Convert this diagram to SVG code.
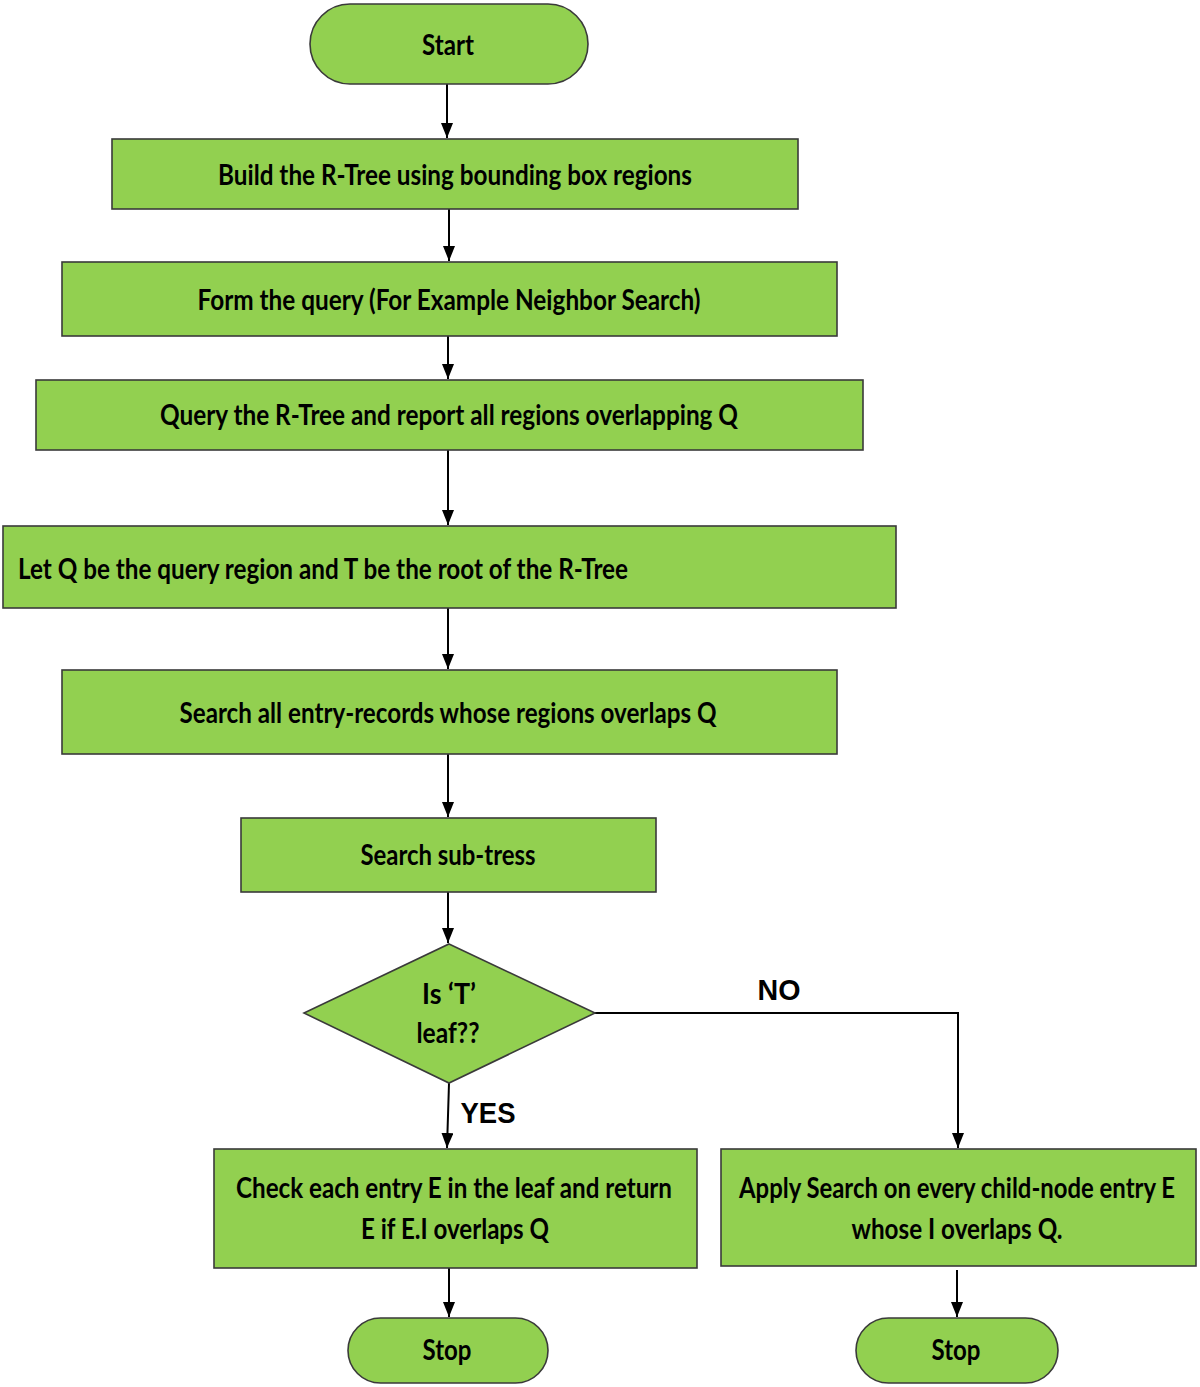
<svg xmlns="http://www.w3.org/2000/svg" width="1200" height="1387" viewBox="0 0 1200 1387">
<defs>
<style>
.n{fill:#92D050;stroke:#3a3a3a;stroke-width:1.6}
.t{font-family:Lato,"Open Sans","Liberation Sans",sans-serif;font-weight:bold;font-size:29px;fill:#000;text-anchor:middle;dominant-baseline:central}
.tl{text-anchor:start}
.c{fill:none;stroke:#000;stroke-width:2}
.lab{font-family:"Liberation Sans",Arial,sans-serif;font-weight:bold;font-size:30px;fill:#000;text-anchor:middle;dominant-baseline:central}
</style>
<marker id="ah" viewBox="0 0 10 10" refX="10" refY="5" markerWidth="15" markerHeight="12" markerUnits="userSpaceOnUse" orient="auto-start-reverse" preserveAspectRatio="none">
<path d="M0,0 L10,5 L0,10 Z" fill="#000"/>
</marker>
</defs>
<rect width="1200" height="1387" fill="#fff"/>
<g id="connectors">
<line class="c" x1="447" y1="84" x2="447" y2="138" marker-end="url(#ah)"/>
<line class="c" x1="449" y1="209" x2="449" y2="261" marker-end="url(#ah)"/>
<line class="c" x1="448" y1="336" x2="448" y2="379" marker-end="url(#ah)"/>
<line class="c" x1="448" y1="450" x2="448" y2="525" marker-end="url(#ah)"/>
<line class="c" x1="448" y1="608" x2="448" y2="669" marker-end="url(#ah)"/>
<line class="c" x1="448" y1="754" x2="448" y2="817" marker-end="url(#ah)"/>
<line class="c" x1="448" y1="892" x2="448" y2="943" marker-end="url(#ah)"/>
<line class="c" x1="449" y1="1083" x2="447" y2="1148" marker-end="url(#ah)"/>
<polyline class="c" points="595,1013 958,1013 958,1148" marker-end="url(#ah)"/>
<line class="c" x1="449" y1="1262" x2="449" y2="1317" marker-end="url(#ah)"/>
<line class="c" x1="957" y1="1270" x2="957" y2="1317" marker-end="url(#ah)"/>
<text class="lab" x="779" y="989" textLength="43" lengthAdjust="spacingAndGlyphs">NO</text>
<text class="lab" x="488" y="1112" textLength="55" lengthAdjust="spacingAndGlyphs">YES</text>
</g>
<g id="start">
<rect class="n" x="310" y="4" width="278" height="80" rx="40" ry="40"/>
<text class="t" x="448" y="43" textLength="52" lengthAdjust="spacingAndGlyphs">Start</text>
</g>
<g id="build">
<rect class="n" x="112" y="139" width="686" height="70"/>
<text class="t" x="455" y="173" textLength="474" lengthAdjust="spacingAndGlyphs">Build the R-Tree using bounding box regions</text>
</g>
<g id="form">
<rect class="n" x="62" y="262" width="775" height="74"/>
<text class="t" x="449" y="298" textLength="503" lengthAdjust="spacingAndGlyphs">Form the query (For Example Neighbor Search)</text>
</g>
<g id="query">
<rect class="n" x="36" y="380" width="827" height="70"/>
<text class="t" x="449" y="413" textLength="578" lengthAdjust="spacingAndGlyphs">Query the R-Tree and report all regions overlapping Q</text>
</g>
<g id="letq">
<rect class="n" x="3" y="526" width="893" height="82"/>
<text class="t tl" x="18" y="567" textLength="610" lengthAdjust="spacingAndGlyphs">Let Q be the query region and T be the root of the R-Tree</text>
</g>
<g id="searchall">
<rect class="n" x="62" y="670" width="775" height="84"/>
<text class="t" x="448" y="711" textLength="537" lengthAdjust="spacingAndGlyphs">Search all entry-records whose regions overlaps Q</text>
</g>
<g id="subtrees">
<rect class="n" x="241" y="818" width="415" height="74"/>
<text class="t" x="448" y="853" textLength="175" lengthAdjust="spacingAndGlyphs">Search sub-tress</text>
</g>
<g id="decision">
<polygon class="n" points="449,944 595,1013 449,1083 304,1013"/>
<text class="t" x="449" y="992" textLength="54" lengthAdjust="spacingAndGlyphs">Is ‘T’</text>
<text class="t" x="448" y="1031" textLength="63" lengthAdjust="spacingAndGlyphs">leaf??</text>
</g>
<g id="check">
<rect class="n" x="214" y="1149" width="483" height="119"/>
<text class="t" x="454" y="1186" textLength="436" lengthAdjust="spacingAndGlyphs">Check each entry E in the leaf and return</text>
<text class="t" x="455" y="1227" textLength="188" lengthAdjust="spacingAndGlyphs">E if E.I overlaps Q</text>
</g>
<g id="apply">
<rect class="n" x="721" y="1149" width="475" height="117"/>
<text class="t" x="957" y="1186" textLength="436" lengthAdjust="spacingAndGlyphs">Apply Search on every child-node entry E</text>
<text class="t" x="957" y="1227" textLength="211" lengthAdjust="spacingAndGlyphs">whose I overlaps Q.</text>
</g>
<g id="stop1">
<rect class="n" x="348" y="1318" width="200" height="65" rx="32.5" ry="32.5"/>
<text class="t" x="447" y="1348" textLength="49" lengthAdjust="spacingAndGlyphs">Stop</text>
</g>
<g id="stop2">
<rect class="n" x="856" y="1318" width="202" height="65" rx="32.5" ry="32.5"/>
<text class="t" x="956" y="1348" textLength="49" lengthAdjust="spacingAndGlyphs">Stop</text>
</g>
</svg>
